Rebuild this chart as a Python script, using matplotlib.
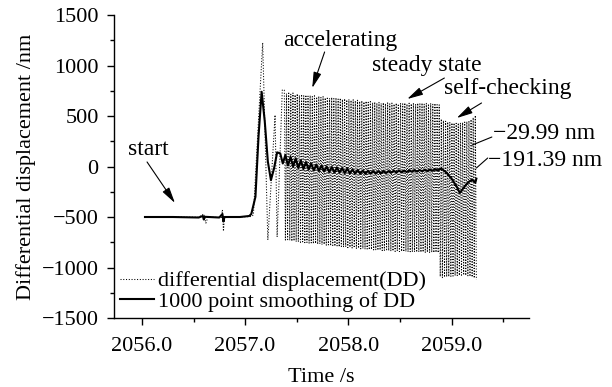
import numpy as np
import matplotlib
matplotlib.use("Agg")
import matplotlib.pyplot as plt
from matplotlib.ticker import MultipleLocator, FormatStrFormatter

plt.rcParams["font.family"] = ["Liberation Serif", "DejaVu Serif"]
plt.rcParams["font.size"] = 16

# Differential displacement (DD): start, step and first big swings
dd_t = [2056.03, 2056.30, 2056.55, 2056.60, 2056.62, 2056.64, 2056.77, 2056.78, 2056.79,
        2056.80, 2056.95, 2057.06, 2057.08, 2057.17, 2057.22, 2057.29, 2057.31, 2057.36]
dd_v = [-500, -500, -502, -470, -560, -500, -505, -430, -640,
        -500, -500, -495, -480, 1225, -728, 510, -698, 757]

# DD oscillation peaks / troughs, accelerating + steady state (72 cycles)
osc_top = [757, 722, 738, 715, 728, 710, 720, 705, 714, 700, 708, 697, 704, 692, 700, 688,
           696, 684, 692, 680, 688, 676, 684, 672, 680, 668, 676, 664, 671, 660, 666, 655,
           661, 650, 656, 645, 651, 640, 646, 636, 642, 632, 638, 628, 635, 625, 632, 622,
           630, 620, 628, 618, 627, 619, 628, 620, 630, 618, 627, 621, 629, 619, 626, 620,
           628, 617, 625, 619, 627, 616, 624, 612]
osc_bot = [-728, -736, -731, -740, -736, -745, -741, -750, -746, -754, -751, -759, -756, -764, -761, -769,
           -766, -774, -771, -779, -776, -784, -781, -789, -786, -794, -791, -798, -796, -803, -800, -807,
           -805, -811, -809, -815, -813, -819, -817, -823, -821, -826, -824, -829, -827, -832, -830, -835,
           -833, -838, -836, -840, -838, -842, -840, -844, -842, -846, -844, -847, -845, -848, -846, -849,
           -847, -850, -848, -851, -849, -852, -850, -853]
# self-checking (18 cycles)
chk_top = [610, 470, 455, 448, 440, 436, 432, 430, 428, 430, 432, 436, 440, 445, 452, 465, 485, 505]
chk_bot = [-1090, -1100, -1096, -1092, -1090, -1087, -1085, -1082, -1080,
           -1078, -1076, -1075, -1078, -1082, -1088, -1095, -1105, -1120]

# 1000 point smoothing of DD
sm_t = [2056.03, 2056.30, 2056.55, 2056.59, 2056.60, 2056.61, 2056.75, 2056.78, 2056.79, 2056.80,
        2056.95, 2057.04, 2057.06, 2057.10, 2057.13, 2057.16, 2057.19, 2057.22, 2057.25, 2057.28, 2057.31]
sm_v = [-500, -500, -505, -490, -525, -498, -505, -470, -545, -500,
        -500, -490, -470, -300, 300, 740, 450, 50, -135, -20, 140]
sm_band = [130, 30, 115, 10, 95, 0, 80, -15, 60, -25, 45, -30, 30, -40, 20, -45,
           10, -50, 0, -55, -5, -60, -10, -60, -15, -65, -20, -68, -30, -70, -35, -72,
           -40, -72, -42, -72, -45, -70, -45, -68, -45, -65, -45, -62, -42, -60, -40, -58,
           -40, -55, -38, -52, -36, -50, -34, -48, -32, -45, -30, -42, -28, -38]
sm_chk_t = [2058.90, 2058.95, 2059.00, 2059.05, 2059.08, 2059.11, 2059.14, 2059.17, 2059.20, 2059.23, 2059.24]
sm_chk_v = [-20, -60, -120, -200, -262, -220, -180, -150, -130, -160, -120]

# assemble the DD trace
osc_v = np.empty(2 * len(osc_top))
osc_v[0::2] = osc_top
osc_v[1::2] = osc_bot
chk_v = np.empty(2 * len(chk_top))
chk_v[0::2] = chk_top
chk_v[1::2] = chk_bot
osc_t = np.linspace(2057.38, 2058.87, len(osc_v))
chk_t = np.linspace(2058.88, 2059.24, len(chk_v))
dd_time = np.concatenate([dd_t, osc_t, chk_t])
dd_val = np.concatenate([dd_v, osc_v, chk_v])

sm_time = np.concatenate([sm_t, np.linspace(2057.34, 2058.865, len(sm_band)), sm_chk_t])
sm_val = np.concatenate([sm_v, sm_band, sm_chk_v])

fig = plt.figure(figsize=(6.12, 3.87), dpi=100)
ax = fig.add_axes([0.1863, 0.1783, 0.6781, 0.7829])

ax.plot(dd_time, dd_val, color="black", linestyle=":", linewidth=0.75,
        label="differential displacement(DD)")
ax.plot(sm_time, sm_val, color="black", linestyle="-", linewidth=1.5,
        label="1000 point smoothing of DD")

ax.set_xlim(2055.73, 2059.75)
ax.set_ylim(-1500, 1500)
ax.xaxis.set_major_locator(MultipleLocator(1.0))
ax.xaxis.set_minor_locator(MultipleLocator(0.5))
ax.xaxis.set_major_formatter(FormatStrFormatter("%.1f"))
ax.yaxis.set_major_locator(MultipleLocator(500))
ax.yaxis.set_minor_locator(MultipleLocator(250))
ax.tick_params(which="major", direction="out", length=5, width=1, pad=6)
ax.tick_params(which="minor", direction="out", length=3, width=1)
ax.tick_params(axis="x", which="major", pad=9)
for side in ["top", "right"]:
    ax.spines[side].set_visible(False)
for side in ["left", "bottom"]:
    ax.spines[side].set_linewidth(1)

ax.set_xlabel("Time /s", labelpad=8)
ax.set_ylabel("Differential displacement /nm", labelpad=4)

# annotations
arrow = dict(arrowstyle="-|>,head_length=0.6,head_width=0.15", color="black", lw=0.8,
             shrinkA=0, shrinkB=0)
line = dict(arrowstyle="-", color="black", lw=0.8, shrinkA=0, shrinkB=0)
ax.text(2056.06, 165, "start", ha="center", va="center", fontsize=17)
ax.annotate("", xy=(2056.32, -361), xytext=(2056.05, 45), arrowprops=arrow)
ax.text(2057.92, 1252, "accelerating", ha="center", va="center", fontsize=17)
ax.annotate("", xy=(2057.65, 777), xytext=(2057.77, 1134), arrowprops=arrow)
ax.text(2058.76, 1005, "steady state", ha="center", va="center", fontsize=17)
ax.annotate("", xy=(2058.57, 668), xytext=(2058.93, 876), arrowprops=arrow)
ax.text(2059.54, 770, "self-checking", ha="center", va="center", fontsize=17)
ax.annotate("", xy=(2059.05, 480), xytext=(2059.29, 629), arrowprops=arrow)
ax.text(2059.40, 330, "\u221229.99 nm", ha="left", va="center", fontsize=17)
ax.annotate("", xy=(2059.20, 213), xytext=(2059.39, 292), arrowprops=line)
ax.text(2059.35, 64, "\u2212191.39 nm", ha="left", va="center", fontsize=17)
ax.annotate("", xy=(2059.24, -15), xytext=(2059.35, 84), arrowprops=line)

ax.legend(loc="lower left", bbox_to_anchor=(0.015, 0.02), frameon=False, fontsize=16,
          handlelength=1.5, handletextpad=0.2, labelspacing=0.0, borderaxespad=0, borderpad=0)

fig.savefig("out.png", dpi=100)
